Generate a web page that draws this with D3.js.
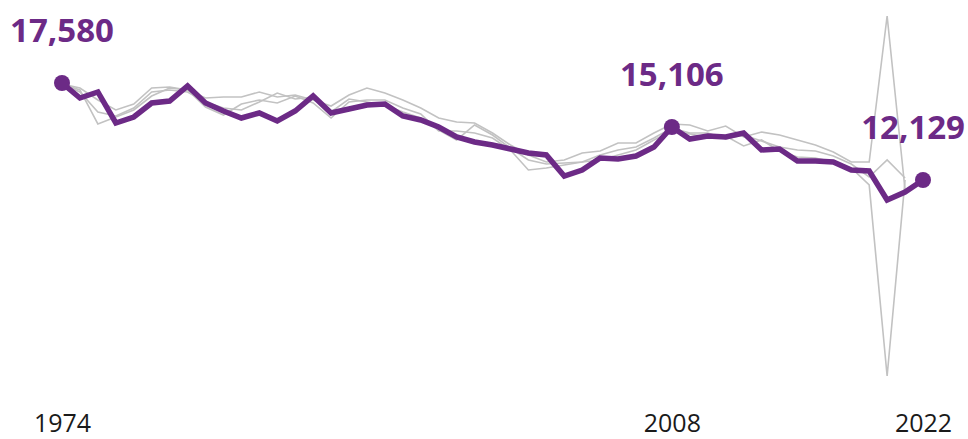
<!DOCTYPE html>
<meta charset="utf-8">
<style>
body{margin:0;background:#fff;}
svg{display:block;}
.axis text{font-family:"Open Sans",sans-serif;font-size:25px;fill:#1a1a1a;}
.axis path,.axis line{display:none;}
.lbl{font-family:"Open Sans",sans-serif;font-weight:700;font-size:33px;fill:#6c2a86;}
</style>
<svg width="968" height="439"></svg>
<script src="https://d3js.org/d3.v7.min.js"></script>
<script>
var years = d3.range(1974, 2023);

// highlighted series 1974-2022
var main = [17580,16737,17074,15332,15669,16456,16568,17411,16456,16006,
  15613,15894,15444,16006,16849,15894,16119,16344,16400,15725,
  15501,15107,14545,14264,14096,13871,13646,13534,12353,12691,
  13365,13309,13477,13983,15106,14433,14601,14545,14770,13815,
  13871,13196,13196,13140,12691,12634,11005,11454,12129];

// grey comparison series 1974-2021
var grey1 = [17524,17299,16625,16063,16400,17299,17355,17187,16737,16793,
  16793,17074,16793,16906,16625,16287,16906,17299,17018,16625,
  16175,15613,15388,15332,14770,14096,13534,13140,13253,13646,
  13758,14208,14208,14770,15276,15220,14882,15163,14545,14826,
  14658,14377,14096,13702,13140,13140,21345,11567];
var grey2 = [17524,17074,15950,15725,16175,17074,17187,17074,16512,16175,
  16063,16512,17018,16681,16793,15950,16681,16512,16344,15950,
  15613,14939,14377,15220,14658,13927,13253,13028,13084,13140,
  13534,13815,13983,14489,15051,14770,14770,14433,14658,14320,
  13983,13815,13758,13477,13028,12297,13253,12241];
var grey3 = [17524,17187,15276,15669,16063,16849,17299,17187,16231,15782,
  16400,16625,16456,16849,16456,15613,16512,16625,16625,16175,
  15838,14882,14882,14770,14489,13815,12691,12803,12972,13140,
  13253,13534,13815,14377,14882,14714,14545,14601,14039,14377,
  13758,13421,13365,13140,12803,11848,1113,12129];

var tickYears = [1974, 2008, 2022];
var labelYears = [1974, 2008, 2022];

var svg = d3.select("svg"),
    width = +svg.attr("width"),
    height = +svg.attr("height");

var purple = "#6c2a86";

var x = d3.scaleLinear().domain([1974, 2022]).range([62, 923]);
var all = main.concat(grey1, grey2, grey3);
var y = d3.scaleLinear().domain(d3.extent(all)).range([376, 16]);

var line = d3.line()
  .x(function(d){ return x(d.year); })
  .y(function(d){ return y(d.value); });

function pairs(arr){
  return arr.map(function(v, i){ return {year: years[i], value: v}; });
}

[grey1, grey2, grey3].forEach(function(s){
  svg.append("path")
    .datum(pairs(s))
    .attr("fill", "none")
    .attr("stroke", "#c2c2c2")
    .attr("stroke-width", 1.6)
    .attr("stroke-linejoin", "miter")
    .attr("d", line);
});

var mainData = pairs(main);
svg.append("path")
  .datum(mainData)
  .attr("fill", "none")
  .attr("stroke", purple)
  .attr("stroke-width", 5.5)
  .attr("stroke-linejoin", "miter")
  .attr("d", line);

var marked = mainData.filter(function(d){ return labelYears.indexOf(d.year) >= 0; });

svg.selectAll(".dot")
  .data(marked)
  .enter().append("circle")
  .attr("class", "dot")
  .attr("cx", function(d){ return x(d.year); })
  .attr("cy", function(d){ return y(d.value); })
  .attr("r", 8)
  .attr("fill", purple);

var fmt = d3.format(",");
svg.selectAll(".lbl")
  .data(marked)
  .enter().append("text")
  .attr("class", "lbl")
  .attr("text-anchor", "middle")
  .attr("x", function(d){ return x(d.year); })
  .attr("y", function(d){ return y(d.value) - 41; })
  .text(function(d){ return fmt(d.value); })
  .each(function(){
    // keep label inside the picture
    var t = d3.select(this), w = this.getComputedTextLength();
    var cx = +t.attr("x");
    if (cx + w / 2 > width - 3) t.attr("x", width - 3 - w / 2);
    if (cx - w / 2 < 3) t.attr("x", 3 + w / 2);
  });

svg.append("g")
  .attr("class", "axis")
  .attr("transform", "translate(0,410)")
  .call(d3.axisBottom(x).tickValues(tickYears).tickFormat(d3.format("d")).tickSize(0).tickPadding(0))
  .selectAll("text")
  .attr("dy", "0")
  .attr("y", 22);
</script>
